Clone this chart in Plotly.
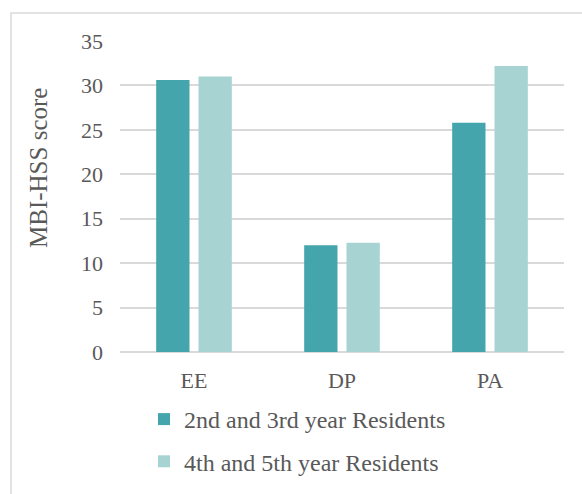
import plotly.graph_objects as go

categories = ["EE", "DP", "PA"]
series_names = ["2nd and 3rd year Residents", "4th and 5th year Residents"]
junior_scores = [30.6, 12.0, 25.8]
senior_scores = [31.0, 12.3, 32.2]
y_ticks = [0, 5, 10, 15, 20, 25, 30, 35]

colors = ["#44A5AC", "#A7D3D2"]
text_color = "#595959"
grid_color = "#D9D9D9"
font_family = "Liberation Serif, Times New Roman, serif"

# plot area in pixels: x 120..564, y 41..352
PLOT_L, PLOT_R, PLOT_T, PLOT_B = 120, 564, 41, 352
PW, PH = PLOT_R - PLOT_L, PLOT_B - PLOT_T


def px_x(px):
    return (px - PLOT_L) / PW


def px_y(py):
    return (PLOT_B - py) / PH


fig = go.Figure()
for i, (name, vals) in enumerate(zip(series_names, [junior_scores, senior_scores])):
    fig.add_trace(go.Bar(
        x=categories, y=vals, name=name,
        marker=dict(color=colors[i], line=dict(width=0)),
        legendgroup=f"g{i}",
    ))

fig.update_layout(
    width=582, height=494,
    margin=dict(l=PLOT_L, r=582 - PLOT_R, t=PLOT_T, b=494 - PLOT_B, autoexpand=False),
    paper_bgcolor="white", plot_bgcolor="white",
    font=dict(family=font_family, color=text_color, size=22),
    barmode="group", bargap=0.428, bargroupgap=0.213,
    showlegend=True,
    legend=dict(
        x=px_x(144), xanchor="left", y=px_y(397), yanchor="top",
        font=dict(size=24, color=text_color),
        traceorder="grouped", tracegroupgap=8,
        bgcolor="rgba(0,0,0,0)",
    ),
    xaxis=dict(
        showgrid=False, showline=False, ticks="",
        tickfont=dict(size=22, color=text_color),
        ticklabelstandoff=13,
    ),
    yaxis=dict(
        range=[0, 35], tickvals=y_ticks, showgrid=True,
        gridcolor=grid_color, gridwidth=1.5,
        zeroline=True, zerolinecolor=grid_color, zerolinewidth=1.5,
        showline=False, ticks="",
        tickfont=dict(size=22, color=text_color),
        ticklabelstandoff=16,
    ),
    annotations=[dict(
        text="MBI-HSS score", textangle=-90,
        xref="paper", yref="paper",
        x=px_x(38), y=px_y(168),
        xanchor="center", yanchor="middle", showarrow=False,
        font=dict(size=25, color=text_color),
    )],
    shapes=[dict(
        type="rect", xref="paper", yref="paper",
        x0=px_x(11), x1=px_x(620),
        y0=px_y(540), y1=px_y(13),
        line=dict(color=grid_color, width=1.5),
        fillcolor="rgba(0,0,0,0)", layer="below",
    )],
)

fig.write_html("out.html")
